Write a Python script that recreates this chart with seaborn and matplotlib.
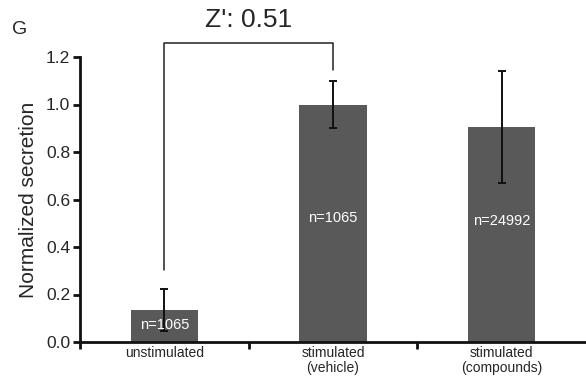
import matplotlib
matplotlib.use("Agg")
import matplotlib.pyplot as plt
import seaborn as sns
import pandas as pd
import numpy as np

categories = ["unstimulated", "stimulated\n(vehicle)", "stimulated\n(compounds)"]
means = [0.135, 1.0, 0.905]
errors = [0.087, 0.10, 0.235]
n_labels = ["n=1065", "n=1065", "n=24992"]
n_label_y = [0.07, 0.52, 0.51]
yticks = [0.0, 0.2, 0.4, 0.6, 0.8, 1.0, 1.2]
zprime_text = "Z': 0.51"
bracket_left_bottom = 0.305
bracket_right_bottom = 1.145
bracket_top = 1.26

sns.set_style("white")
plt.rcParams['font.family'] = ['Liberation Sans', 'DejaVu Sans']

df = pd.DataFrame({"category": categories, "value": means})

fig = plt.figure(figsize=(5.86, 3.77), dpi=100)
ax = fig.add_axes([80/586, 35/377, 506/586, 285/377])

sns.barplot(data=df, x="category", y="value", order=categories, color="#595959",
            saturation=1, width=0.40, errorbar=None, ax=ax, edgecolor="none")

x = np.arange(len(categories))
ax.errorbar(x, means, yerr=errors, fmt="none", ecolor="#111111", elinewidth=1.4,
            capsize=3, capthick=1.4, zorder=5)

for xi, lab, yy in zip(x, n_labels, n_label_y):
    ax.text(xi, yy, lab, color="white", ha="center", va="center", fontsize=10.5, zorder=6)

ax.set_xlim(-0.5, 2.5)
ax.set_ylim(0, 1.2)
ax.set_yticks(yticks)
ax.set_yticklabels([f"{v:.1f}" for v in yticks], fontsize=12.5)
ax.set_xticks([-0.5, 0.5, 1.5])
ax.set_xticklabels(["", "", ""])
ax.set_xticks(x, minor=True)
ax.set_xticklabels(categories, minor=True, fontsize=10, linespacing=1.05)
ax.tick_params(axis="x", which="minor", length=0, pad=3)
ax.tick_params(axis="x", which="major", direction="out", length=5, width=2, color="#111111", bottom=True)
ax.tick_params(axis="y", direction="out", length=5, width=2, color="#111111", left=True, pad=2)
ax.set_xlabel("")
ax.set_ylabel("Normalized secretion", fontsize=15, labelpad=6)

for s in ["top", "right"]:
    ax.spines[s].set_visible(False)
for s in ["left", "bottom"]:
    ax.spines[s].set_linewidth(2)
    ax.spines[s].set_color("#111111")

# bracket
ax.plot([0, 0, 1, 1], [bracket_left_bottom, bracket_top, bracket_top, bracket_right_bottom],
        color="#222222", lw=1.1, clip_on=False, zorder=4)
ax.text(0.5, bracket_top + 0.045, zprime_text, ha="center", va="bottom", fontsize=19,
        transform=ax.transData, clip_on=False)

fig.text(12/586, 1 - 30/377, "G", fontsize=14, ha="left", va="center")

fig.savefig("out.png", dpi=100)
